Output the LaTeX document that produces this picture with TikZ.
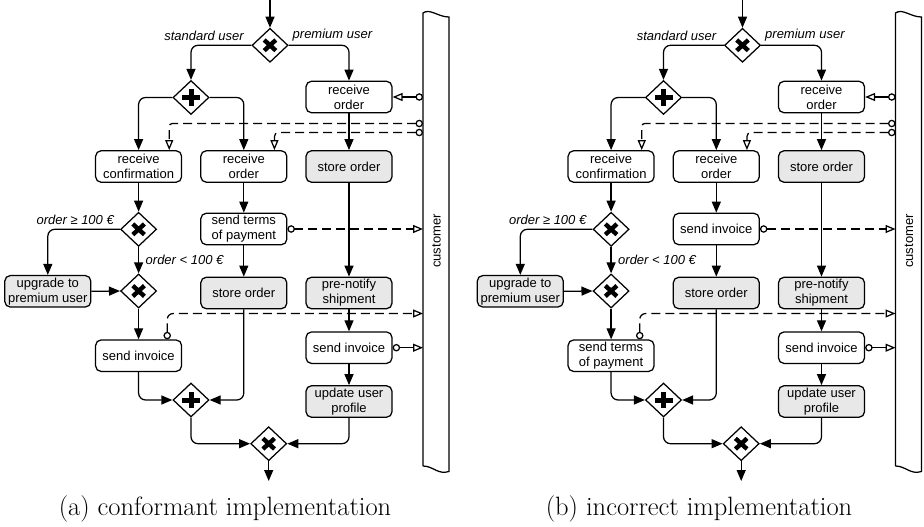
\documentclass[tikz,border=0pt]{standalone}
\usepackage{fontspec}
\newfontfamily\sansf{Liberation Sans}
\usetikzlibrary{arrows.meta,shapes.geometric,calc}
\definecolor{boxgray}{RGB}{232,232,232}
\tikzset{
  task/.style={draw, line width=1.25pt, rounded corners=5.5pt, minimum width=86pt, minimum height=31.5pt, inner sep=1pt, align=center, font=\sansf\fontsize{13}{15}\selectfont},
  gtask/.style={task, fill=boxgray},
  gw/.style={draw, diamond, line width=1.25pt, minimum width=36pt, minimum height=34pt, inner sep=0pt, fill=white},
  xorgw/.style={gw, path picture={\draw[line width=4.4pt] ([shift={(-5.8pt,-5.3pt)}]path picture bounding box.center) -- ([shift={(5.8pt,5.3pt)}]path picture bounding box.center) ([shift={(-5.8pt,5.3pt)}]path picture bounding box.center) -- ([shift={(5.8pt,-5.3pt)}]path picture bounding box.center);}},
  andgw/.style={gw, path picture={\draw[line width=5pt] ([xshift=-9pt]path picture bounding box.center) -- ([xshift=9pt]path picture bounding box.center) ([yshift=-8pt]path picture bounding box.center) -- ([yshift=8pt]path picture bounding box.center);}},
  seq/.style={line width=1.25pt, -{Triangle[length=11pt,width=9pt]}, rounded corners=7pt},
  msgsolid/.style={line width=1.25pt, {Circle[open,length=7.5pt,width=7.5pt]}-{Triangle[open,length=10pt,width=8pt]}},
  msg/.style={msgsolid, dash pattern=on 9pt off 5pt},
  lbl/.style={font=\sansf\itshape\fontsize{13}{15}\selectfont, inner sep=0pt},
  capt/.style={font=\fontsize{26.5}{30}\selectfont, inner sep=0pt, anchor=base},
  poolline/.style={line width=1.25pt},
}
\newcommand\diagpart[3]{%
  % gateways
  \coordinate (#1in) at (270,0);
  \node[xorgw] (#1g1) at (270,45.3) {};
  \node[andgw] (#1g2) at (191,97.5) {};
  \node[xorgw] (#1g3) at (138.6,229.3) {};
  \node[xorgw] (#1g4) at (138.6,291) {};
  \node[andgw] (#1g5) at (191,400) {};
  \node[xorgw] (#1g6) at (268.7,443.7) {};
  \coordinate (#1out) at (268.7,481);
  % tasks
  \node[task] (#1ro1) at (349,97) {receive\\order};
  \node[task] (#1rc) at (138.6,166.5) {receive\\confirmation};
  \node[task] (#1ro2) at (243.8,166.5) {receive\\order};
  \node[gtask] (#1so1) at (349,166.5) {store order};
  \node[task] (#1mid) at (243.8,229) {#2};
  \node[gtask] (#1up) at (47.8,291.3) {upgrade to\\premium user};
  \node[gtask] (#1so2) at (243.8,293) {store order};
  \node[gtask] (#1pn) at (349,293) {pre-notify\\shipment};
  \node[task] (#1lb) at (138.6,355.7) {#3};
  \node[task] (#1si2) at (349,347.7) {send invoice};
  \node[gtask] (#1uup) at (349,401.5) {update user\\profile};
  % labels
  \node[lbl, anchor=east] (#1l1) at (244,35.5) {standard user};
  \node[lbl, anchor=west] (#1l2) at (292.5,35.5) {premium user};
  \node[lbl, anchor=east] (#1l3) at (114,220) {order ≥ 100 €};
  \node[lbl, anchor=west] (#1l4) at (145.5,260) {order < 100 €};
  % pool
  \draw[poolline] (423,466) -- (423,13) .. controls (430,8) and (438,17) .. (449,17) -- (449,471.5) .. controls (438,475) and (433,466) .. (423,466);
  \node[rotate=90, font=\sansf\fontsize{13}{15}\selectfont, inner sep=0pt] (#1cust) at (436.5,241) {customer};
  \coordinate (#1p0) at (423,97);
  \coordinate (#1p1) at (423,123.5);
  \coordinate (#1p2) at (423,132.5);
  \coordinate (#1p3) at (423,229);
  \coordinate (#1p4) at (423,313.5);
  \coordinate (#1p5) at (423,347.7);
  % sequence flows
  \draw[seq] (#1in) -- (#1g1.north);
  \draw[seq] (#1g1.west) -| (#1g2.north);
  \draw[seq] (#1g1.east) -| (#1ro1.north);
  \draw[seq] (#1g2.west) -| (#1rc.north);
  \draw[seq] (#1g2.east) -| (#1ro2.north);
  \draw[seq] (#1ro1) -- (#1so1);
  \draw[seq] (#1so1) -- (#1pn);
  \draw[seq] (#1pn) -- (#1si2);
  \draw[seq] (#1si2) -- (#1uup);
  \draw[seq] (#1rc) -- (#1g3);
  \draw[seq] (#1g3.west) -| (#1up.north);
  \draw[seq] (#1g3.south) -- (#1g4.north);
  \draw[seq] (#1up.east) -- (#1g4.west);
  \draw[seq] (#1g4.south) -- (#1lb.north);
  \draw[seq] (#1ro2) -- (#1mid);
  \draw[seq] (#1mid) -- (#1so2);
  \draw[seq] (#1lb.south) |- (#1g5.west);
  \draw[seq] (#1so2.south) |- (#1g5.east);
  \draw[seq] (#1g5.south) |- (#1g6.west);
  \draw[seq] (#1uup.south) |- (#1g6.east);
  \draw[seq] (#1g6.south) -- (#1out);
  % message flows
  \draw[msgsolid] (#1p0) -- (#1ro1.east);
  \draw[msg, rounded corners=3pt] (#1p1) -| ([xshift=-13pt]#1rc.north east);
  \draw[msg, rounded corners=4pt] (#1p2) -| ([xshift=-13pt]#1ro2.north east);
  \draw[msg] (#1mid.east) -- (#1p3);
  \draw[msg, rounded corners=6pt] ([xshift=-15pt]#1lb.north east) |- (#1p4);
  \draw[msgsolid] (#1si2.east) -- (#1p5);
}
\begin{document}
\begin{tikzpicture}[x=1pt,y=-1pt]
\useasboundingbox (0,0) rectangle (924,527);
\diagpart{a}{send terms\\of payment}{send invoice}
\begin{scope}[xshift=472.5pt]
\diagpart{b}{send invoice}{send terms\\of payment}
\end{scope}
\node[capt] (capa) at (225,515) {(a) conformant implementation};
\node[capt] (capb) at (699,515) {(b) incorrect implementation};
\end{tikzpicture}
\end{document}
